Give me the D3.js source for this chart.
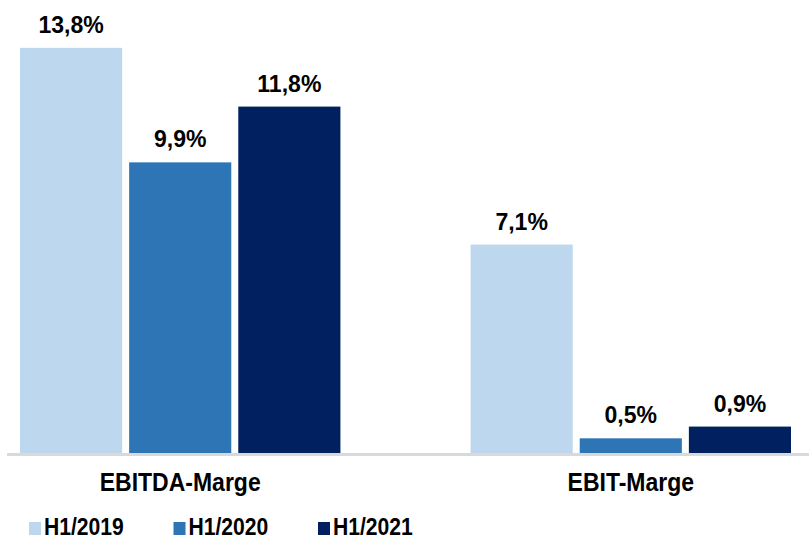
<!DOCTYPE html>
<html>
<head>
<meta charset="utf-8">
<script src="https://cdn.jsdelivr.net/npm/d3@7"></script>
<style>
  body { margin: 0; background: #fff; }
  svg { display: block; font-family: "Liberation Sans", Arial, sans-serif; }
</style>
</head>
<body>
<div id="vis"></div>
<script>

// data
var categories = ['EBITDA-Marge', 'EBIT-Marge'];
var seriesNames = ['H1/2019', 'H1/2020', 'H1/2021'];
var values2019 = [13.8, 7.1];
var values2020 = [9.9, 0.5];
var values2021 = [11.8, 0.9];

var width = 809;
var height = 540;

var fillColor = d3.scaleOrdinal()
  .domain(seriesNames)
  .range(['#bdd7ee', '#2e75b6', '#002060']);

var seriesValues = [values2019, values2020, values2021];

// flatten into rows for the bars
var rows = [];
categories.forEach(function (c, i) {
  seriesNames.forEach(function (s, j) {
    rows.push({ cat: c, series: s, value: seriesValues[j][i] });
  });
});

var svg = d3.select('#vis')
  .append('svg')
  .attr('width', width)
  .attr('height', height);

var x0 = d3.scaleBand()
  .domain(categories)
  .range([20, 791])
  .paddingInner(130 / 450)
  .paddingOuter(0);

var x1 = d3.scaleBand()
  .domain(seriesNames)
  .range([0, x0.bandwidth()])
  .paddingInner(7 / 109);

var y = d3.scaleLinear()
  .domain([0, 14])
  .range([453, 42]);

function fmt(v) {
  return d3.format('.1f')(v).replace('.', ',') + '%';
}

// the text in the picture is a bit narrow, squeeze it horizontally
function place(x, yy, sx) {
  return 'translate(' + x + ',' + yy + ') scale(' + sx + ',1)';
}

// bars
svg.selectAll('.bar')
  .data(rows)
  .enter().append('rect')
  .attr('class', 'bar')
  .attr('x', function (d) { return x0(d.cat) + x1(d.series); })
  .attr('y', function (d) { return y(d.value); })
  .attr('width', x1.bandwidth())
  .attr('height', function (d) { return y(0) - y(d.value); })
  .attr('fill', function (d) { return fillColor(d.series); });

// value labels
svg.selectAll('.val')
  .data(rows)
  .enter().append('text')
  .attr('class', 'val')
  .attr('transform', function (d) {
    return place(x0(d.cat) + x1(d.series) + x1.bandwidth() / 2, y(d.value) - 15, 0.96);
  })
  .attr('text-anchor', 'middle')
  .attr('font-size', 24)
  .attr('font-weight', 'bold')
  .attr('fill', '#000')
  .text(function (d) { return fmt(d.value); });

// x axis line
svg.append('line')
  .attr('x1', 7)
  .attr('x2', width)
  .attr('y1', y(0) + 1.5)
  .attr('y2', y(0) + 1.5)
  .attr('stroke', '#d9d9d9')
  .attr('stroke-width', 3);

// category labels
svg.selectAll('.cat')
  .data(categories)
  .enter().append('text')
  .attr('class', 'cat')
  .attr('transform', function (d) { return place(x0(d) + x0.bandwidth() / 2, 491, 0.92); })
  .attr('text-anchor', 'middle')
  .attr('font-size', 25)
  .attr('font-weight', 'bold')
  .attr('fill', '#000')
  .text(function (d) { return d; });

// legend
var legend = svg.selectAll('.legend')
  .data(seriesNames)
  .enter().append('g')
  .attr('class', 'legend')
  .attr('transform', function (d, i) { return 'translate(' + (29 + i * 144.5) + ',522)'; });

legend.append('rect')
  .attr('width', 12)
  .attr('height', 13)
  .attr('fill', function (d) { return fillColor(d); });

legend.append('text')
  .attr('transform', place(15, 13, 0.88))
  .attr('font-size', 24)
  .attr('font-weight', 'bold')
  .attr('fill', '#000')
  .text(function (d) { return d; });

</script>
</body>
</html>
